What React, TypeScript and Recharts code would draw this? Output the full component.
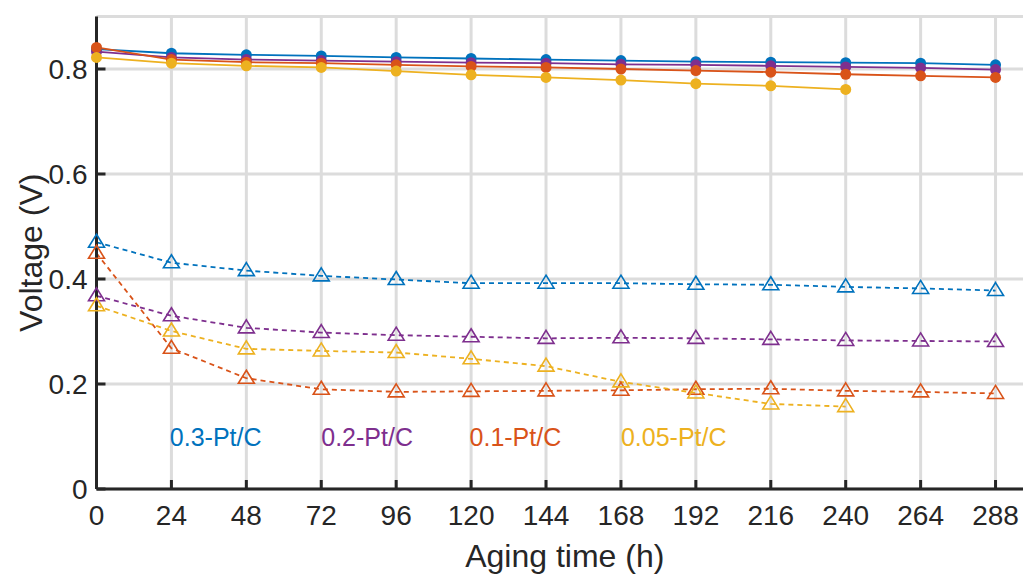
import { LineChart, Line, XAxis, YAxis, CartesianGrid, ReferenceDot } from "recharts";

const hours = [0, 24, 48, 72, 96, 120, 144, 168, 192, 216, 240, 264, 288];

// upper group (filled circles, solid)
const pt03Upper = [0.838, 0.83, 0.827, 0.825, 0.822, 0.82, 0.818, 0.816, 0.814, 0.813, 0.812, 0.811, 0.808];
const pt02Upper = [0.833, 0.822, 0.818, 0.816, 0.814, 0.812, 0.811, 0.809, 0.808, 0.806, 0.804, 0.802, 0.799];
const pt01Upper = [0.841, 0.818, 0.813, 0.811, 0.808, 0.805, 0.803, 0.8, 0.797, 0.794, 0.79, 0.787, 0.784];
const pt005Upper = [0.822, 0.811, 0.806, 0.803, 0.796, 0.789, 0.784, 0.779, 0.772, 0.768, 0.761, null, null];

// lower group (open triangles, dashed)
const pt03Lower = [0.47, 0.431, 0.416, 0.406, 0.399, 0.392, 0.392, 0.392, 0.39, 0.389, 0.385, 0.382, 0.378];
const pt02Lower = [0.368, 0.33, 0.307, 0.298, 0.293, 0.29, 0.287, 0.288, 0.287, 0.285, 0.283, 0.282, 0.281];
const pt01Lower = [0.449, 0.268, 0.211, 0.19, 0.185, 0.186, 0.187, 0.188, 0.19, 0.191, 0.187, 0.185, 0.182];
const pt005Lower = [0.349, 0.301, 0.267, 0.263, 0.26, 0.248, 0.234, 0.204, 0.183, 0.162, 0.157, null, null];

const yTicks = [0, 0.2, 0.4, 0.6, 0.8];
const seriesNames = ["0.3-Pt/C", "0.2-Pt/C", "0.1-Pt/C", "0.05-Pt/C"];

const BLUE = "#0072BD";
const PURPLE = "#7E2F8E";
const ORANGE = "#D95319";
const YELLOW = "#EDB120";
const INK = "#262626";
const FONT = "'Liberation Sans', Arial, sans-serif";

const data = hours.map((h, i) => ({
  h,
  pt03Upper: pt03Upper[i],
  pt02Upper: pt02Upper[i],
  pt01Upper: pt01Upper[i],
  pt005Upper: pt005Upper[i],
  pt03Lower: pt03Lower[i],
  pt02Lower: pt02Lower[i],
  pt01Lower: pt01Lower[i],
  pt005Lower: pt005Lower[i],
}));

const Triangle = (props: any) => {
  const { cx, cy, stroke, value } = props;
  if (cx == null || cy == null || value == null) return null;
  return (
    <path
      d={`M${cx},${cy - 8} L${cx + 8},${cy + 5} L${cx - 8},${cy + 5} Z`}
      fill="none"
      stroke={stroke}
      strokeWidth={1.6}
    />
  );
};

const labelColors = [BLUE, PURPLE, ORANGE, YELLOW];
const labelX = [23.5, 72, 119.5, 168];

export default function App() {
  const axisLine = { stroke: INK, strokeWidth: 3 };
  const tickStyle = { fill: INK, fontSize: 28, fontFamily: FONT };

  return (
    <div style={{ position: "fixed", left: 0, top: 0, width: 1023, height: 574, overflow: "hidden", background: "#fff" }}>
      <LineChart
        width={1100}
        height={574}
        data={data}
        margin={{ top: 16.5, right: 67, bottom: 0, left: 0 }}
        style={{ fontFamily: FONT }}
      >
        <CartesianGrid stroke="#dcdcdc" strokeWidth={3} />
        <XAxis
          dataKey="h"
          type="number"
          domain={[0, 300]}
          ticks={hours}
          height={85}
          axisLine={axisLine}
          tickLine={axisLine}
          tickSize={-9}
          tickMargin={25}
          tick={tickStyle}
          label={{ value: "Aging time (h)", position: "insideBottom", offset: 7, fill: INK, fontSize: 32 }}
        />
        <XAxis
          xAxisId="top"
          dataKey="h"
          type="number"
          orientation="top"
          domain={[0, 300]}
          ticks={hours}
          height={0}
          axisLine={axisLine}
          tickLine={axisLine}
          tickSize={-9}
          tick={false}
        />
        <YAxis
          type="number"
          domain={[0, 0.9]}
          ticks={yTicks}
          width={96.5}
          axisLine={axisLine}
          tickLine={axisLine}
          tickSize={-9}
          tickMargin={18}
          tick={tickStyle}
          label={{
            value: "Voltage (V)",
            angle: -90,
            position: "insideLeft",
            offset: 31,
            fill: INK,
            fontSize: 32,
            style: { textAnchor: "middle" },
          }}
        />

        <Line dataKey="pt03Upper" stroke={BLUE} strokeWidth={1.8} dot={{ r: 5.5, fill: BLUE, stroke: BLUE, strokeWidth: 0 }} isAnimationActive={false} />
        <Line dataKey="pt02Upper" stroke={PURPLE} strokeWidth={1.8} dot={{ r: 5.5, fill: PURPLE, stroke: PURPLE, strokeWidth: 0 }} isAnimationActive={false} />
        <Line dataKey="pt01Upper" stroke={ORANGE} strokeWidth={1.8} dot={{ r: 5.5, fill: ORANGE, stroke: ORANGE, strokeWidth: 0 }} isAnimationActive={false} />
        <Line dataKey="pt005Upper" stroke={YELLOW} strokeWidth={1.8} dot={{ r: 5.5, fill: YELLOW, stroke: YELLOW, strokeWidth: 0 }} isAnimationActive={false} />

        <Line dataKey="pt03Lower" stroke={BLUE} strokeWidth={1.8} strokeDasharray="5 4" dot={<Triangle />} isAnimationActive={false} />
        <Line dataKey="pt02Lower" stroke={PURPLE} strokeWidth={1.8} strokeDasharray="5 4" dot={<Triangle />} isAnimationActive={false} />
        <Line dataKey="pt01Lower" stroke={ORANGE} strokeWidth={1.8} strokeDasharray="5 4" dot={<Triangle />} isAnimationActive={false} />
        <Line dataKey="pt005Lower" stroke={YELLOW} strokeWidth={1.8} strokeDasharray="5 4" dot={<Triangle />} isAnimationActive={false} />

        {seriesNames.map((name, i) => (
          <ReferenceDot
            key={name}
            x={labelX[i]}
            y={0.099}
            r={0}
            fill="none"
            stroke="none"
            label={{ value: name, position: "right", offset: 0, fill: labelColors[i], fontSize: 25 }}
          />
        ))}
      </LineChart>
    </div>
  );
}
